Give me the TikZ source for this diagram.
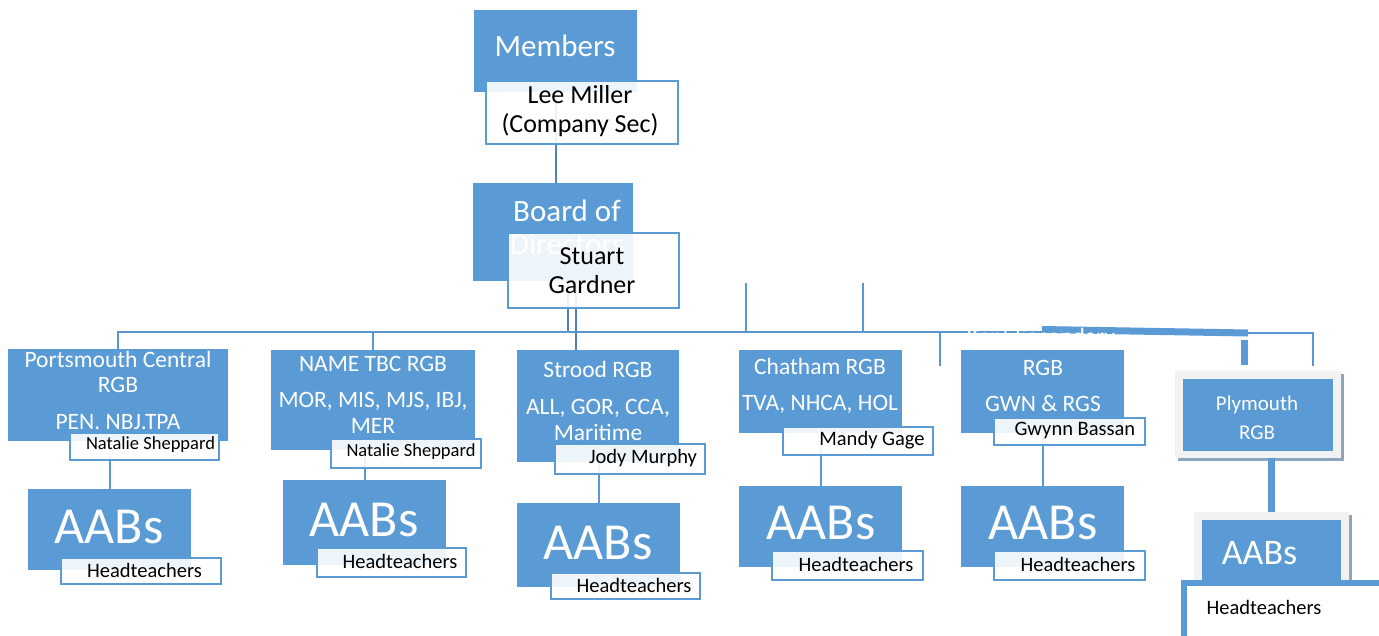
\documentclass[tikz,border=0pt]{standalone}
\usepackage{fontspec}
\setmainfont{Carlito}
\usetikzlibrary{calc,shadows}
\definecolor{obl}{HTML}{5B9BD5}
\definecolor{lnc}{HTML}{5B96D0}
\definecolor{dkl}{HTML}{4F81BD}
\definecolor{gfr}{HTML}{F2F2F2}
\definecolor{gsh}{HTML}{8FA5BD}
\tikzset{
  bbox/.style={fill=obl, draw=none, inner sep=0pt, anchor=north west},
  wbox/.style={fill=white, fill opacity=0.9, draw=obl, draw opacity=1, line width=2pt, inner sep=0pt, anchor=north west},
  gframe/.style={fill=gfr, draw=none, inner sep=0pt, anchor=north west,
     general shadow={fill=gsh, shadow xshift=3pt, shadow yshift=-3pt}},
  conn/.style={draw=lnc, line width=2pt},
  dconn/.style={draw=dkl, line width=2pt},
  thick7/.style={draw=obl, line width=7pt},
  wt/.style={text=white, align=center, inner sep=0pt},
  kt/.style={text=black, align=center, inner sep=0pt},
  big/.style={font=\fontsize{31}{33}\selectfont},
  mid/.style={font=\fontsize{26}{29}\selectfont},
  rgb/.style={font=\fontsize{23.5}{25.5}\selectfont},
  nam/.style={font=\fontsize{18.5}{20}\selectfont},
  hd/.style={font=\fontsize{20.5}{22}\selectfont},
  aab/.style={font=\fontsize{52}{54}\selectfont},
}
\begin{document}
\begin{tikzpicture}[x=1pt,y=-1pt]
\useasboundingbox (0,0) rectangle (1379,635);
\clip (0,0) rectangle (1379,635);

% ---------- blue boxes (positions only, drawn later) ----------
\path
  node[bbox, minimum width=163pt, minimum height=82pt] (members) at (474,10) {}
  node[bbox, minimum width=160pt, minimum height=98pt] (board) at (473,183) {}
  node[bbox, minimum width=220pt, minimum height=92pt] (pc) at (8,349) {}
  node[bbox, minimum width=204pt, minimum height=100pt] (nt) at (271,350) {}
  node[bbox, minimum width=162pt, minimum height=112pt] (st) at (517,350) {}
  node[bbox, minimum width=163pt, minimum height=83pt] (ch) at (739,350) {}
  node[bbox, minimum width=163pt, minimum height=83pt] (kn) at (961,350) {}
  node[bbox, minimum width=163pt, minimum height=81pt] (aab1) at (28,489) {}
  node[bbox, minimum width=163pt, minimum height=85pt] (aab2) at (283,480) {}
  node[bbox, minimum width=163pt, minimum height=84pt] (aab3) at (517,503) {}
  node[bbox, minimum width=163pt, minimum height=81pt] (aab4) at (739,486) {}
  node[bbox, minimum width=163pt, minimum height=81pt] (aab5) at (961,486) {};

% ---------- connectors ----------
\coordinate (busend) at (1042,332);
\coordinate (j1) at (568,332);
\coordinate (j2) at (576,332);
\coordinate (u1) at (746,283);
\coordinate (u2) at (863,283);
\coordinate (d1) at (940,366);
\coordinate (tb1) at (1042,329.5);
\coordinate (tb2) at (1248,333);
\coordinate (r1) at (1313,366);
\coordinate (td1) at (1244.5,340);
\coordinate (td2) at (1244.5,365);

\draw[dconn] (members.south) -- (members.south |- board.north);
\draw[dconn] (board.south -| j1) -- (j1);
\draw[dconn] (board.south -| j2) -- (st.north -| j2);
\draw[conn] (pc.north) |- (busend);
\draw[conn] (nt.north) -- (nt.north |- busend);
\draw[conn] (u1) -- (u1 |- busend);
\draw[conn] (u2) -- (u2 |- busend);
\draw[conn] (d1 |- busend) -- (d1);
\draw[thick7] (tb1) -- (tb2);
\draw[conn] (tb2) -| (r1);
\draw[thick7] (td1) -- (td2);
\draw[conn] (aab1.north |- pc.south) -- (aab1.north);
\draw[conn] (aab2.north |- nt.south) -- (aab2.north);
\draw[conn] (aab3.north |- st.south) -- (aab3.north);
\draw[conn] (aab4.north |- ch.south) -- (aab4.north);
\draw[conn] (aab5.north |- kn.south) -- (aab5.north);

% ---------- draw blue boxes ----------
\foreach \n in {members,board,pc,nt,st,ch,kn,aab1,aab2,aab3,aab4,aab5}
  \fill[obl] (\n.north west) rectangle (\n.south east);

% ---------- Plymouth group ----------
\node[gframe, minimum width=166pt, minimum height=87pt] (plyf) at (1175,371) {};
\node[bbox, minimum width=150pt, minimum height=72pt] (ply) at (1183,379) {};
\node[gframe, minimum width=155pt, minimum height=78pt] (aab6f) at (1194,512) {};
\node[bbox, minimum width=139pt, minimum height=63pt] (aab6) at (1202,520) {};
\draw[thick7] (aab6f.north |- plyf.south) -- (aab6f.north);

% ---------- box texts (under white boxes) ----------
\node[wt, big] (membersT) at (555,46) {Members};
\node[wt, big] (boardT) at (567,227) {Board of\\Directors};
\node[wt, rgb] (pcT) at (118,390) {Portsmouth Central\\RGB\\[11pt]PEN. NBJ.TPA};
\node[wt, rgb] (ntT) at (373,394.5) {NAME TBC RGB\\[11pt]MOR, MIS, MJS, IBJ,\\MER};
\node[wt, rgb] (stT) at (598,400.5) {Strood RGB\\[12pt]ALL, GOR, CCA,\\Maritime};
\node[wt, rgb] (chT) at (820,386) {Chatham RGB\\[10pt]TVA, NHCA, HOL};
\node[wt, rgb] (knT) at (1043,386) {RGB\\[10pt]GWN \& RGS};
\node[wt, aab] (a1T) at (109,527) {AABs};
\node[wt, aab] (a2T) at (364,520) {AABs};
\node[wt, aab] (a3T) at (598,543) {AABs};
\node[wt, aab] (a4T) at (821,523) {AABs};
\node[wt, aab] (a5T) at (1043,523) {AABs};
\node[wt, font=\fontsize{21}{29}\selectfont] (plyT) at (1257,417.5) {Plymouth\\RGB};
\node[wt, font=\fontsize{36}{38}\selectfont] (a6T) at (1259.5,553) {AABs};

% ---------- white boxes ----------
\node[wbox, minimum width=192pt, minimum height=63pt] (lee) at (485,80) {};
\node[wbox, minimum width=171pt, minimum height=75pt] (stuart) at (507,232) {};
\node[wbox, minimum width=149pt, minimum height=27pt] (ns1) at (69,432) {};
\node[wbox, minimum width=150pt, minimum height=29pt] (ns2) at (330,438) {};
\node[wbox, minimum width=150pt, minimum height=30pt] (jm) at (554,443) {};
\node[wbox, minimum width=150pt, minimum height=28pt] (mg) at (782,426) {};
\node[wbox, minimum width=151pt, minimum height=27pt] (gb) at (993,417) {};
\node[wbox, minimum width=160pt, minimum height=26pt] (ht1) at (60,557) {};
\node[wbox, minimum width=149pt, minimum height=29pt] (ht2) at (316,547) {};
\node[wbox, minimum width=149pt, minimum height=26pt] (ht3) at (550,572) {};
\node[wbox, minimum width=151pt, minimum height=29pt] (ht4) at (771,550) {};
\node[wbox, minimum width=151pt, minimum height=29pt] (ht5) at (993,550) {};
\node[wbox, fill opacity=1, line width=6pt, minimum width=230pt, minimum height=80pt] (ht6) at (1181,580) {};

% ---------- black texts ----------
\node[kt, mid] (leeT) at (580,111.5) {Lee Miller\\(Company Sec)};
\node[kt, mid] (stuartT) at (592,270.5) {Stuart\\Gardner};
\node[kt, nam] (ns1T) at (150.5,445) {Natalie Sheppard};
\node[kt, nam] (ns2T) at (411,452) {Natalie Sheppard};
\node[kt, hd] (jmT) at (643,458) {Jody Murphy};
\node[kt, hd] (mgT) at (872,440) {Mandy Gage};
\node[kt, hd] (gbT) at (1075,430) {Gwynn Bassan};
\node[kt, hd] (h1T) at (144.5,570) {Headteachers};
\node[kt, hd] (h2T) at (400,561) {Headteachers};
\node[kt, hd] (h3T) at (634,585) {Headteachers};
\node[kt, hd] (h4T) at (856,564) {Headteachers};
\node[kt, hd] (h5T) at (1078,564) {Headteachers};
\node[kt, hd] (h6T) at (1264,607) {Headteachers};

% ---------- hidden (white) title line of the Kent box ----------
\node[wt, rgb] (knT0) at (1043,338) {Kent Secondary,};
\end{tikzpicture}
\end{document}
